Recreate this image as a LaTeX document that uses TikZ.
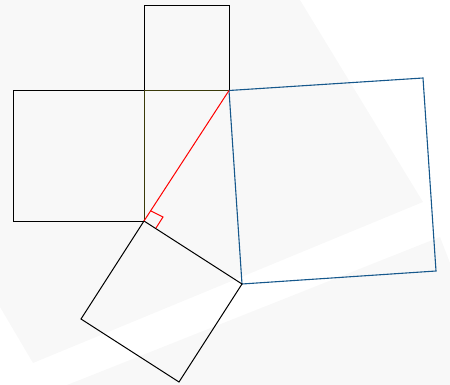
\documentclass[tikz,border=0pt]{standalone}
\definecolor{bgg}{RGB}{248,248,248}
\definecolor{sqblue}{RGB}{22,88,140}
\definecolor{olivel}{RGB}{58,58,10}
\begin{document}
\begin{tikzpicture}[x=1pt,y=-1pt,line join=miter,
  edge/.style={line width=1pt},
  bgshape/.style={fill=bgg,draw=none}]
\useasboundingbox (0,0) rectangle (450,385);
% background shapes
\fill[bgshape] (0,0) -- (300,0) -- (423,202) -- (33,363) -- (0,307) -- cycle;
\fill[bgshape] (440,237) -- (452,268) -- (452,387) -- (62,387) -- cycle;
% triangle vertices
\coordinate (A) at (144,221);
\coordinate (B) at (229,90.5);
\coordinate (C) at (242,284);
\coordinate (P) at (144,90.5);
% top square
\draw[edge,black] (P) -- (144,6) -- (229,6) -- (B);
% left square
\draw[edge,black] (P) -- (13,90.5) -- (13,221) -- (A);
% shared olive edges
\draw[edge,olivel] (B) -- (P) -- (A);
% blue square on hypotenuse side
\draw[edge,sqblue,line width=1.1pt] (B) -- (423,78) -- (436,271) -- (C) -- cycle;
% bottom square
\draw[edge,black] (A) -- (C) -- (179,382) -- (81,319) -- cycle;
% red side
\draw[edge,red] (A) -- (B);
% right angle marker
\coordinate (M1) at (151,211);
\coordinate (M2) at (163,217);
\coordinate (M3) at (156,228);
\draw[line width=1pt,red] (M1) -- (M2) -- (M3);
\end{tikzpicture}
\end{document}
